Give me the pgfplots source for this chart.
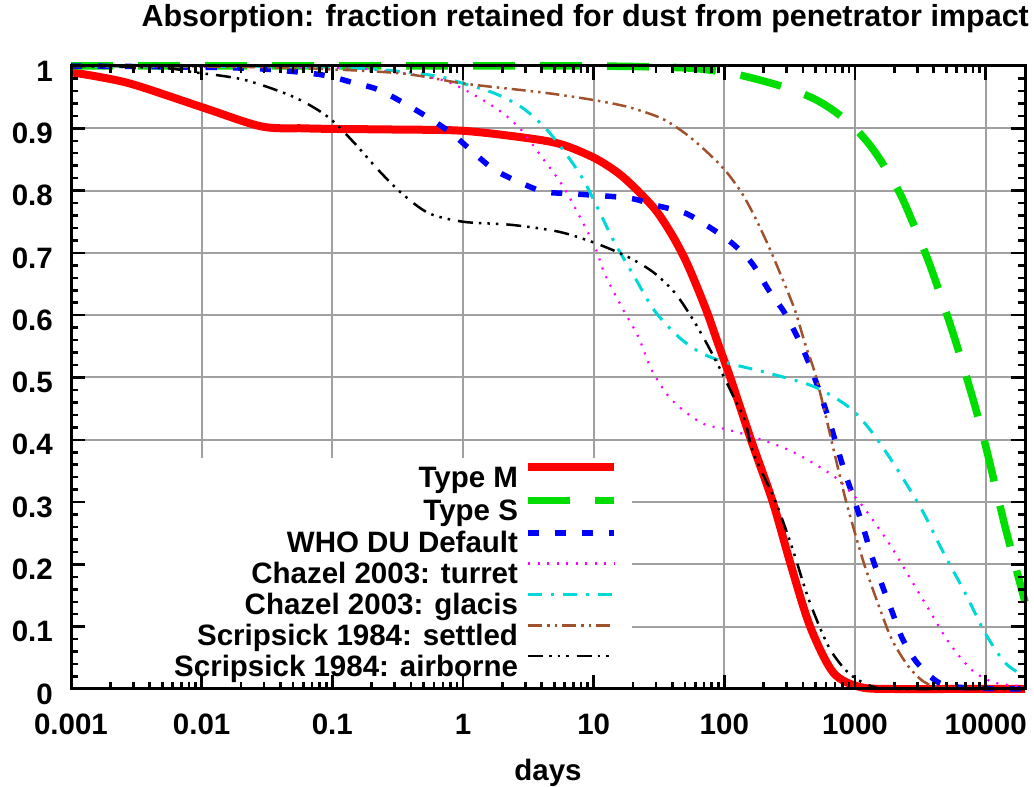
\documentclass[border=0pt]{standalone}
\usepackage{fontspec}
\setmainfont{Liberation Sans}
\usepackage{pgfplots}
\pgfplotsset{compat=1.18}
\definecolor{cM}{RGB}{255,0,0}
\definecolor{cS}{RGB}{0,221,0}
\definecolor{cW}{RGB}{0,0,255}
\definecolor{cT}{RGB}{255,0,255}
\definecolor{cG}{RGB}{0,215,215}
\definecolor{cSe}{RGB}{160,82,45}
\definecolor{gridc}{RGB}{160,160,160}
\pgfplotsset{
  layers/mylayers/.define layer set={
    axis background,axis grid,pre main,main,axis ticks,axis lines,axis tick labels,axis descriptions,axis foreground
  }{
    grid style={/pgfplots/on layer=axis grid},
    tick style={/pgfplots/on layer=axis ticks},
    axis line style={/pgfplots/on layer=axis lines},
    label style={/pgfplots/on layer=axis descriptions},
    legend style={/pgfplots/on layer=axis descriptions},
    title style={/pgfplots/on layer=axis descriptions},
    colorbar style={/pgfplots/on layer=axis descriptions},
    ticklabel style={/pgfplots/on layer=axis tick labels},
    axis background@ style={/pgfplots/on layer=axis background},
    3d box foreground style={/pgfplots/on layer=axis foreground},
  },
}
\newcommand{\ff}{\fontsize{29.5}{32}\selectfont\bfseries}
\begin{document}
\begin{tikzpicture}
\begin{axis}[
  set layers=mylayers,
  xmode=log, log basis x=10,
  scale only axis, width=954pt, height=623pt,
  xmin=0.001, xmax=20000, ymin=0, ymax=1,
  clip=false,
  axis line style={line width=3pt, black},
  every tick/.style={line width=2.5pt, black},
  major tick length=14pt, minor tick length=7pt,
  tickpos=both, tick align=inside,
  xtick={0.001,0.01,0.1,1,10,100,1000,10000},
  xticklabels={0.001,0.01,0.1,1,10,100,1000,10000},
  minor xtick={0.002,0.003,0.004,0.005,0.006,0.007,0.008,0.009,
    0.02,0.03,0.04,0.05,0.06,0.07,0.08,0.09,
    0.2,0.3,0.4,0.5,0.6,0.7,0.8,0.9,
    2,3,4,5,6,7,8,9,20,30,40,50,60,70,80,90,
    200,300,400,500,600,700,800,900,2000,3000,4000,5000,6000,7000,8000,9000},
  ytick={0,0.1,0.2,0.3,0.4,0.5,0.6,0.7,0.8,0.9,1},
  yticklabels={0,0.1,0.2,0.3,0.4,0.5,0.6,0.7,0.8,0.9,1},
  minor y tick num=4,
  grid=major,
  major grid style={gridc, line width=2pt},
  tick label style={font=\ff},
  xticklabel style={inner sep=0pt, anchor=north, yshift=-25pt},
  yticklabel style={inner sep=0pt, anchor=east, xshift=-18pt, yshift=-5pt},
  title={Absorption: fraction retained for dust from penetrator impact},
  title style={font=\fontsize{30.5}{33}\selectfont\bfseries, at={(0.539,1)}, anchor=base, yshift=33pt, inner sep=0pt},
  xlabel={days},
  xlabel style={font=\ff, at={(0.5,0)}, anchor=base, yshift=-92pt, inner sep=0pt},
  legend cell align=right,
  legend plot pos=right,
  legend style={at={(0.5734,0.362)}, anchor=north east, draw=none, fill=none,
    inner sep=0pt, outer sep=0pt, row sep=3.5pt, column sep=6pt, font=\ff,
    nodes={inner sep=0pt, text height=20pt, text depth=6pt}},
  legend image code/.code={\draw[#1] (0pt,13pt) -- (86pt,13pt);},
]
\fill[white] (rel axis cs:0,0) rectangle (rel axis cs:0.588,0.371);

\addplot[cM, line width=8pt, smooth] coordinates {
(0.001,0.99) (0.0027,0.973) (0.01,0.934) (0.0286,0.903) (0.06,0.900) (0.1,0.899)
(0.3,0.898) (1,0.896) (3.18,0.884) (5.7,0.874) (10,0.853) (15,0.83) (20.5,0.805)
(30,0.768) (40,0.728) (50,0.69) (60,0.652) (74,0.604) (90,0.553) (111,0.50)
(160,0.40) (235,0.30) (322,0.20) (454,0.10)
(684,0.026) (1100,0.003) (2000,0.0) (5000,0.0) (20000,0.0)};
\addlegendentry{Type M}

\addplot[cS, line width=7.5pt, dash pattern=on 42pt off 25pt, smooth] coordinates {
(0.001,1.0) (1,1.0) (10,1.0) (50,0.997) (100,0.99) (154,0.982) (300,0.965) (490,0.947)
(700,0.927) (1000,0.90) (1300,0.873) (1610,0.845) (2000,0.812) (2415,0.778)
(3690,0.684) (5530,0.576) (7880,0.47) (10000,0.39) (14100,0.26) (20000,0.14)};
\addlegendentry{Type S}

\addplot[cW, line width=5.5pt, dash pattern=on 11pt off 16pt, smooth] coordinates {
(0.001,1.0) (0.01,0.998) (0.03,0.995) (0.082,0.986) (0.14,0.974) (0.225,0.962)
(0.356,0.94) (0.544,0.917) (0.817,0.892) (1.22,0.86) (1.75,0.833) (2.8,0.812)
(4.2,0.798) (6.8,0.795) (18.5,0.788) (29,0.777) (50,0.764) (76,0.742) (114,0.716)
(162,0.684) (219,0.64) (291,0.603) (372,0.56) (444,0.523) (530,0.48) (632,0.432)
(728,0.389) (838,0.347) (1000,0.30) (1172,0.255) (1349,0.212) (1610,0.167)
(1923,0.124) (2292,0.082) (2990,0.042) (4400,0.01) (7000,0.002) (20000,0.0)};
\addlegendentry{WHO DU Default}

\addplot[cT, line width=2.2pt, dash pattern=on 2pt off 7.5pt, smooth] coordinates {
(0.001,1.0) (0.1,0.997) (0.3,0.99) (0.71,0.977) (1.3,0.95) (2.0,0.925) (2.8,0.897)
(4.0,0.854) (5.5,0.815) (6.9,0.78) (10.2,0.71) (12.1,0.667) (16.4,0.613) (22,0.565)
(27.8,0.512) (39.6,0.464) (67,0.427) (108,0.416) (194,0.40) (347,0.379) (703,0.34)
(1100,0.298) (1820,0.234) (2600,0.18) (3690,0.127) (5250,0.074) (7890,0.03)
(11800,0.01) (20000,0.004)};
\addlegendentry{Chazel 2003: turret}

\addplot[cG, line width=3pt, dash pattern=on 14pt off 9pt on 3pt off 9pt, smooth] coordinates {
(0.001,1.0) (0.1,0.998) (0.54,0.986) (1.0,0.972) (1.75,0.956) (2.8,0.934) (4.2,0.902)
(5.7,0.868) (8.1,0.822) (10.9,0.769) (14.5,0.716) (20.6,0.661) (29,0.608) (44.8,0.565)
(67,0.539) (108,0.523) (219,0.507) (490,0.485) (890,0.453) (1306,0.416) (2000,0.36)
(3260,0.287) (4640,0.223) (6970,0.154) (9900,0.09) (14100,0.042) (20000,0.02)};
\addlegendentry{Chazel 2003: glacis}

\addplot[cSe, line width=2.5pt, dash pattern=on 14pt off 5pt on 2.5pt off 5pt on 2.5pt off 5pt, smooth] coordinates {
(0.001,1.0) (0.03,0.998) (0.3,0.989) (1,0.972) (3.2,0.96) (5.4,0.954) (10.2,0.945)
(18.5,0.934) (33,0.916) (50,0.892) (71,0.865) (101,0.833) (136,0.796) (171,0.758)
(219,0.71) (275,0.661) (347,0.608) (414,0.555) (494,0.507) (590,0.443) (667,0.395)
(838,0.308) (1000,0.25) (1194,0.196) (1530,0.132) (1920,0.079) (2590,0.035)
(3470,0.01) (5000,0.002) (20000,0.0)};
\addlegendentry{Scripsick 1984: settled}

\addplot[black, line width=2.5pt, dash pattern=on 15pt off 6pt on 2.5pt off 6pt on 2.5pt off 6pt on 2.5pt off 8pt, smooth] coordinates {
(0.001,1.0) (0.0049,0.997) (0.0087,0.99) (0.021,0.978) (0.051,0.95) (0.093,0.918)
(0.148,0.876) (0.225,0.833) (0.338,0.796) (0.544,0.764) (1,0.75) (2.35,0.745)
(5.4,0.734) (10.2,0.716) (18.5,0.693) (29,0.668) (41.8,0.636) (56,0.597) (71,0.56)
(91,0.517) (114,0.475) (143,0.432) (167,0.378) (244,0.303) (329,0.228) (444,0.143)
(632,0.067) (890,0.026) (1280,0.006) (2000,0.0) (20000,0.0)};
\addlegendentry{Scripsick 1984: airborne}
\end{axis}
\pgfresetboundingbox
\useasboundingbox ([xshift=-71pt,yshift=-98pt]current axis.south west) rectangle ([xshift=9pt,yshift=66pt]current axis.north east);
\end{tikzpicture}
\end{document}
